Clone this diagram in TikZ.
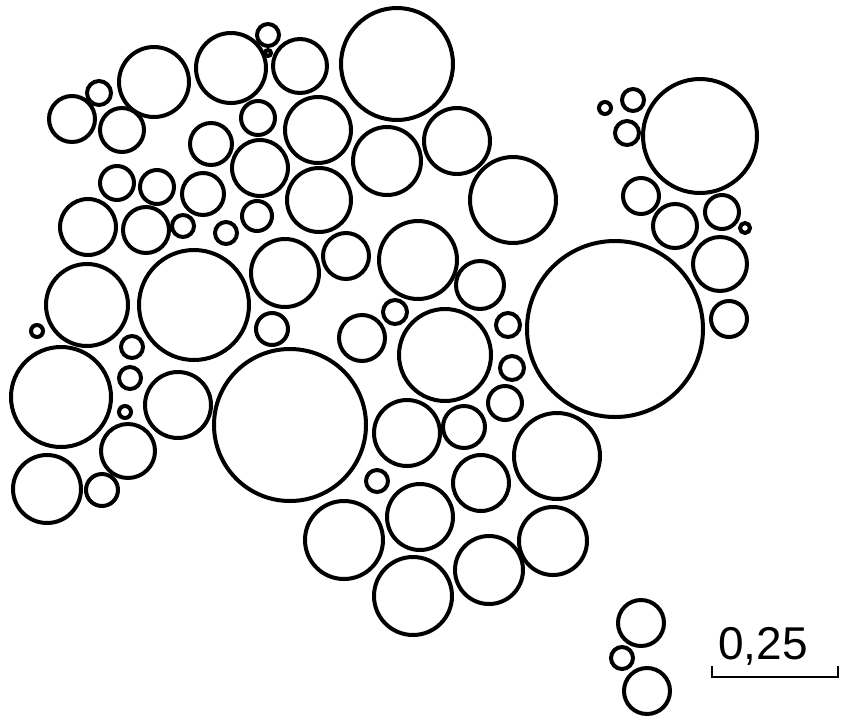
\documentclass[tikz,border=0pt]{standalone}
\usepackage{fontspec}
\setmainfont{Liberation Sans}
\begin{document}
\begin{tikzpicture}[x=1pt,y=-1pt,
  grain/.style={draw=black,line width=4pt},
  bar/.style={draw=black,line width=2.8pt}]
\useasboundingbox (0,0) rectangle (841,724);
\foreach \cx/\cy/\r in {
 154/82/35, 99/93/12, 72/119/23, 122/130/22, 231/68/35, 268/35/11, 268/53/3,
 300/66/27, 397/64/56, 258/118/17, 318/130/33, 387/161/34, 457/141/33,
 513/200/43, 211/144/21, 260/168/28, 319/200/32, 117/183/17, 157/187/17,
 203/194/21, 183/226/11, 257/216/15, 226/233/11, 88/227/28, 146/230/23,
 87/305/41, 37/331/6, 194/305/55, 61/397/50, 132/347/11, 130/378/11,
 125/412/6, 178/405/33, 128/451/27, 47/489/34, 102/490/16, 290/425/76,
 272/329/16, 285/273/34, 346/256/23, 418/260/39, 480/285/24, 395/312/12,
 362/338/23, 445/355/46, 508/325/12, 512/368/12, 505/403/17, 615/329/88,
 407/433/33, 464/427/21, 557/456/43, 377/481/11, 420/517/33, 481/483/28,
 344/540/39, 413/596/39, 489/570/34, 553/541/34, 700/136/57, 633/100/11,
 605/108/6, 627/133/12, 641/196/18, 675/226/22, 722/212/17, 745/228/5,
 720/264/27, 729/319/18, 641/623/23, 622/658/11, 647/691/23}
 {\draw[grain] (\cx,\cy) circle[radius=\r];}
\node[inner sep=0pt,font=\fontsize{46}{50}\selectfont] (lbl) at (763,646) {0,25};
\coordinate (bl) at (712,666);
\coordinate (br) at (838,666);
\draw[bar] (bl) -- ++(0,11) -| (br);
\end{tikzpicture}
\end{document}
